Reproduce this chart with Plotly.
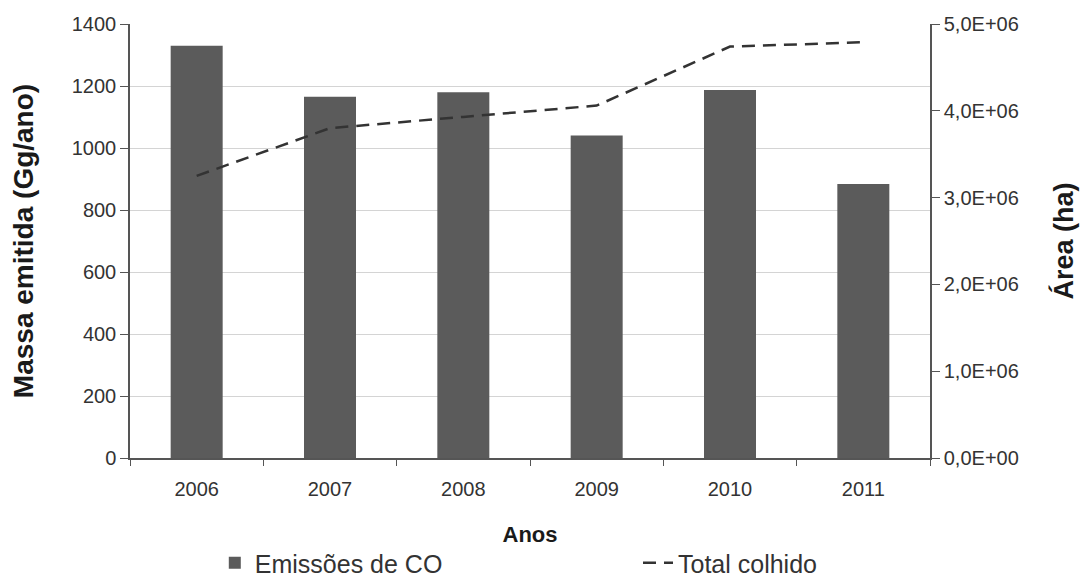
import plotly.graph_objects as go

years = ["2006", "2007", "2008", "2009", "2010", "2011"]
emissoes_co = [1330, 1165, 1180, 1040, 1187, 884]
total_colhido = [3.25e6, 3.80e6, 3.93e6, 4.06e6, 4.74e6, 4.79e6]

left_ticks = [0, 200, 400, 600, 800, 1000, 1200, 1400]
right_tickvals = [0, 1e6, 2e6, 3e6, 4e6, 5e6]
right_ticktext = ["0,0E+00", "1,0E+06", "2,0E+06", "3,0E+06", "4,0E+06", "5,0E+06"]

FONT = "Liberation Sans, Arial, sans-serif"
TXT = "#333333"
AX = "#555555"

fig = go.Figure()
fig.add_trace(go.Bar(
    x=years, y=emissoes_co, name="Emissões de CO",
    marker=dict(color="#5b5b5b", line=dict(width=0)),
    yaxis="y", legend="legend",
))
fig.add_trace(go.Scatter(
    x=years, y=total_colhido, name="Total colhido", mode="lines",
    line=dict(color="#333333", width=2.5, dash="13px,8px"),
    yaxis="y2", legend="legend2",
))

# page body has an 8px margin, so the figure is drawn 8px right/down
fig.update_layout(
    width=1082, height=573,
    margin=dict(l=122, r=160, t=16, b=123, autoexpand=False),
    paper_bgcolor="white", plot_bgcolor="white",
    font=dict(family=FONT, color=TXT, size=20),
    bargap=0.61,
    showlegend=True,
    legend=dict(
        orientation="h", x=0.106, xanchor="left", y=-0.242, yanchor="middle",
        font=dict(size=25, color=TXT), bgcolor="rgba(0,0,0,0)",
    ),
    legend2=dict(
        orientation="h", x=0.635, xanchor="left", y=-0.242, yanchor="middle",
        font=dict(size=25, color=TXT), bgcolor="rgba(0,0,0,0)",
    ),
    xaxis=dict(
        type="category", showline=True, linecolor=AX, linewidth=1.5,
        ticks="outside", ticklen=6, tickcolor=AX, tickson="boundaries",
        tickfont=dict(size=20, color=TXT), automargin=False, ticklabelstandoff=12,
        title=dict(text="<b>Anos</b>", font=dict(size=22, color="#1a1a1a"), standoff=28),
        showgrid=False, zeroline=False,
    ),
    yaxis=dict(
        range=[0, 1400], tickvals=left_ticks, showline=True, linecolor=AX, linewidth=1.5,
        ticks="outside", ticklen=8, tickcolor=AX, automargin=False,
        tickfont=dict(size=20, color=TXT),
        showgrid=True, gridcolor="#d4d4d4", gridwidth=1, zeroline=False,
        title=dict(text="<b>Massa emitida (Gg/ano)</b>", font=dict(size=28, color="#1a1a1a"), standoff=30),
    ),
    yaxis2=dict(
        range=[0, 5e6], tickvals=right_tickvals, ticktext=right_ticktext,
        overlaying="y", side="right", showline=True, linecolor=AX, linewidth=1.5,
        ticks="outside", ticklen=8, tickcolor=AX, automargin=False,
        tickfont=dict(size=20, color=TXT), showgrid=False, zeroline=False,
        title=dict(text="<b>Área (ha)</b>", font=dict(size=27, color="#1a1a1a"), standoff=36),
    ),
)

fig.write_html("out.html")
